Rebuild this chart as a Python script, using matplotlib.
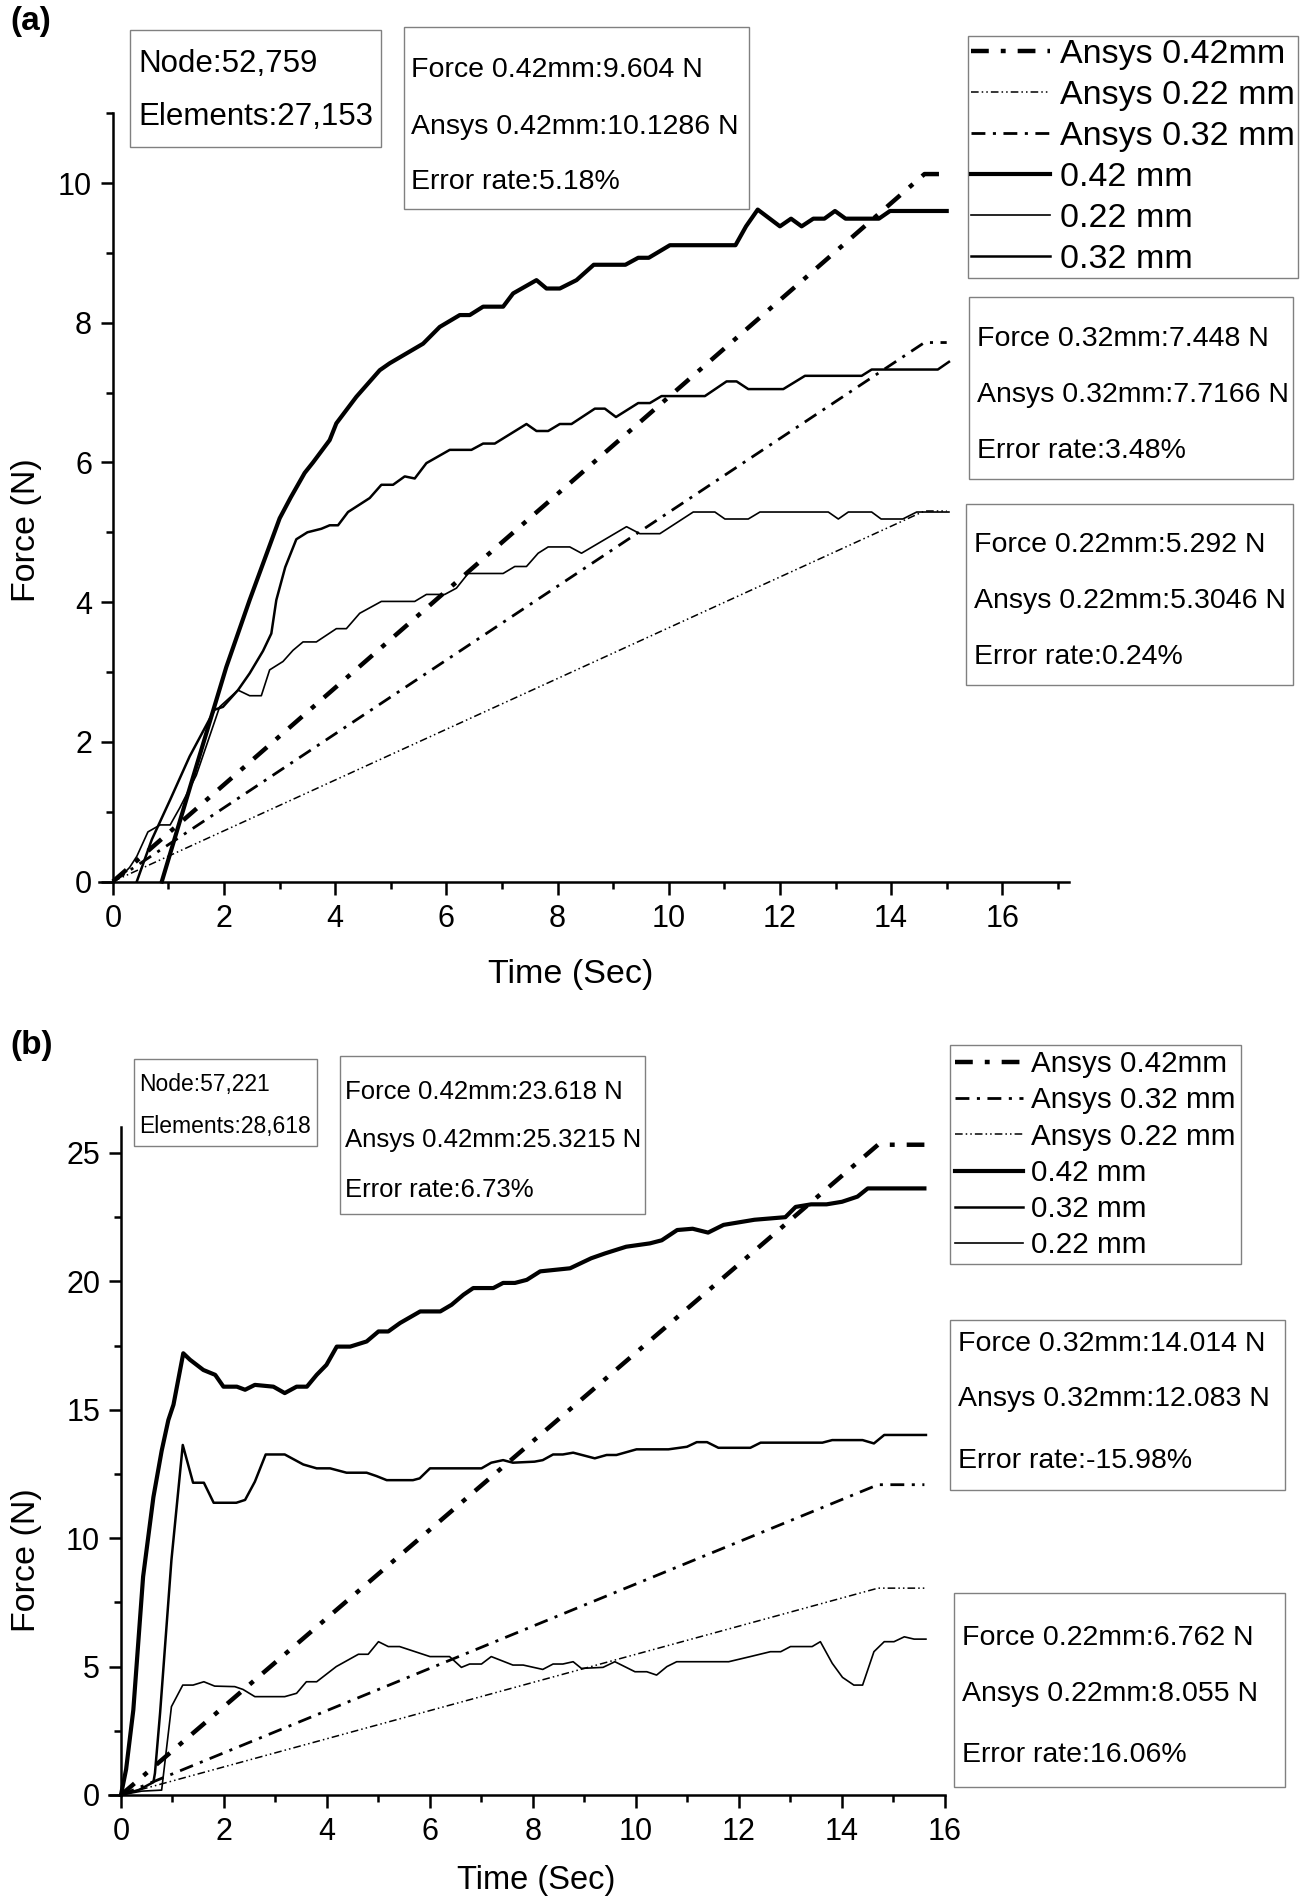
import matplotlib
matplotlib.use("Agg")
import matplotlib.pyplot as plt
from matplotlib.patches import Rectangle
from matplotlib.ticker import MultipleLocator

plt.rcParams['font.family'] = ['Liberation Sans', 'DejaVu Sans']

W, H = 1304, 1904

# ---------------- panel (a) ----------------
a_time_042 = [0.88, 1.38, 2.04, 2.46, 2.7, 3.0, 3.2, 3.45, 3.6, 3.90, 4.02, 4.38, 4.80, 4.98,
              5.58, 5.88, 6.24, 6.42, 6.66, 7.02, 7.2, 7.62, 7.80, 8.04, 8.34, 8.65, 9.22,
              9.45, 9.64, 10.02, 11.20, 11.39, 11.60, 12.0, 12.2, 12.39, 12.6, 12.8, 12.99,
              13.18, 13.78, 13.98, 15.0]
a_force_042 = [0.0, 1.33, 3.07, 4.03, 4.55, 5.2, 5.5, 5.85, 6.0, 6.32, 6.56, 6.94, 7.32, 7.42,
               7.70, 7.94, 8.11, 8.11, 8.23, 8.23, 8.42, 8.61, 8.49, 8.49, 8.61, 8.83, 8.83,
               8.93, 8.93, 9.11, 9.11, 9.38, 9.62, 9.38, 9.49, 9.38, 9.49, 9.49, 9.60,
               9.49, 9.49, 9.60, 9.60]

a_time_032 = [0.43, 0.7, 1.03, 1.38, 1.83, 1.98, 2.25, 2.46, 2.7, 2.85, 2.94, 3.1, 3.3, 3.5,
              3.75, 3.90, 4.05, 4.23, 4.62, 4.83, 5.04, 5.25, 5.43, 5.64, 6.06, 6.45, 6.66,
              6.87, 7.44, 7.62, 7.83, 8.04, 8.25, 8.67, 8.85, 9.05, 9.45, 9.66, 9.87, 10.65,
              11.04, 11.22, 11.43, 12.06, 12.45, 13.47, 13.65, 14.84, 15.04]
a_force_032 = [0.0, 0.6, 1.17, 1.79, 2.46, 2.50, 2.74, 2.98, 3.3, 3.55, 4.03, 4.5, 4.9, 5.0,
               5.05, 5.10, 5.10, 5.29, 5.49, 5.68, 5.68, 5.80, 5.77, 5.99, 6.18, 6.18, 6.27,
               6.27, 6.55, 6.45, 6.45, 6.55, 6.55, 6.77, 6.77, 6.65, 6.85, 6.85, 6.95, 6.95,
               7.16, 7.16, 7.05, 7.05, 7.24, 7.24, 7.33, 7.33, 7.44]

a_time_022 = [0.03, 0.15, 0.3, 0.43, 0.63, 0.85, 1.03, 1.2, 1.5, 1.92, 2.25, 2.46, 2.67, 2.82,
              3.06, 3.24, 3.42, 3.66, 4.02, 4.20, 4.44, 4.83, 5.43, 5.64, 5.97, 6.18, 6.39,
              7.02, 7.23, 7.44, 7.65, 7.83, 8.22, 8.43, 9.24, 9.48, 9.84, 10.44, 10.83, 11.01,
              11.43, 11.64, 12.87, 13.05, 13.23, 13.65, 13.82, 14.21, 14.46, 15.04]
a_force_022 = [0.0, 0.08, 0.2, 0.36, 0.71, 0.81, 0.81, 1.05, 1.52, 2.50, 2.74, 2.66, 2.66, 3.03,
               3.15, 3.31, 3.43, 3.43, 3.62, 3.62, 3.84, 4.01, 4.01, 4.11, 4.11, 4.20, 4.41,
               4.41, 4.51, 4.51, 4.70, 4.79, 4.79, 4.70, 5.08, 4.98, 4.98, 5.29, 5.29, 5.19,
               5.19, 5.29, 5.29, 5.19, 5.29, 5.29, 5.19, 5.19, 5.29, 5.29]

a_ansys_time = [0.0, 14.6, 15.0]
a_ansys_042 = [0.0, 10.1286, 10.1286]
a_ansys_032 = [0.0, 7.7166, 7.7166]
a_ansys_022 = [0.0, 5.3046, 5.3046]

# ---------------- panel (b) ----------------
b_time_042 = [0.0, 0.1, 0.24, 0.43, 0.63, 0.79, 0.92, 1.02, 1.21, 1.34, 1.6, 1.83, 1.99, 2.25,
              2.41, 2.6, 2.96, 3.18, 3.41, 3.61, 3.80, 3.99, 4.19, 4.45, 4.77, 5.0, 5.19,
              5.42, 5.81, 6.2, 6.42, 6.65, 6.84, 7.23, 7.42, 7.65, 7.88, 8.14, 8.72, 9.13,
              9.40, 9.81, 10.27, 10.5, 10.8, 11.1, 11.4, 11.7, 12.0, 12.3, 12.6, 12.9, 13.1,
              13.4, 13.7, 14.0, 14.3, 14.5, 15.6]
b_force_042 = [0.0, 1.0, 3.31, 8.5, 11.6, 13.4, 14.6, 15.2, 17.2, 16.95, 16.55, 16.36, 15.9,
               15.9, 15.78, 15.97, 15.9, 15.65, 15.9, 15.9, 16.36, 16.75, 17.46, 17.46, 17.66,
               18.05, 18.05, 18.38, 18.83, 18.83, 19.09, 19.48, 19.74, 19.74, 19.94, 19.94,
               20.06, 20.39, 20.51, 20.9, 21.09, 21.35, 21.48, 21.6, 22.0, 22.05, 21.9, 22.2,
               22.3, 22.4, 22.45, 22.5, 22.9, 23.0, 23.0, 23.1, 23.3, 23.62, 23.62]

b_time_032 = [0.0, 0.35, 0.63, 0.66, 0.76, 0.98, 1.20, 1.40, 1.61, 1.80, 2.24, 2.41, 2.60,
              2.81, 3.18, 3.54, 3.80, 4.06, 4.38, 4.77, 4.96, 5.16, 5.67, 5.80, 6.0, 7.0,
              7.19, 7.42, 7.61, 8.03, 8.19, 8.39, 8.58, 8.78, 9.2, 9.43, 9.62, 10.01, 10.63,
              10.99, 11.18, 11.38, 11.6, 12.22, 12.42, 13.62, 13.81, 14.4, 14.62, 14.82, 15.63]
b_force_032 = [0.0, 0.2, 0.5, 0.85, 3.2, 9.15, 13.63, 12.16, 12.16, 11.38, 11.38, 11.49, 12.2,
               13.26, 13.26, 12.87, 12.72, 12.72, 12.55, 12.55, 12.42, 12.26, 12.26, 12.33,
               12.72, 12.72, 12.94, 13.04, 12.94, 12.98, 13.04, 13.26, 13.26, 13.33, 13.11,
               13.24, 13.24, 13.46, 13.46, 13.56, 13.74, 13.74, 13.52, 13.52, 13.72, 13.72,
               13.82, 13.82, 13.69, 14.02, 14.02]

b_time_022 = [0.0, 0.4, 0.79, 0.98, 1.20, 1.40, 1.61, 1.82, 2.21, 2.37, 2.6, 3.18, 3.41, 3.60,
              3.80, 4.18, 4.61, 4.80, 5.0, 5.19, 5.41, 6.0, 6.38, 6.61, 6.77, 7.0, 7.19, 7.61,
              7.81, 8.19, 8.39, 8.58, 8.78, 8.94, 9.36, 9.59, 9.98, 10.21, 10.40, 10.60, 10.79,
              11.80, 12.22, 12.61, 12.81, 13.0, 13.42, 13.58, 13.81, 14.01, 14.23, 14.40,
              14.62, 14.82, 15.01, 15.21, 15.40, 15.63]
b_force_022 = [0.0, 0.15, 0.19, 3.44, 4.28, 4.28, 4.41, 4.24, 4.22, 4.11, 3.83, 3.83, 3.96,
               4.41, 4.41, 5.0, 5.48, 5.48, 5.97, 5.78, 5.78, 5.39, 5.39, 4.97, 5.10, 5.10,
               5.39, 5.06, 5.06, 4.89, 5.10, 5.10, 5.19, 4.93, 4.97, 5.19, 4.80, 4.80, 4.67,
               5.0, 5.19, 5.19, 5.39, 5.58, 5.58, 5.78, 5.78, 5.97, 5.13, 4.58, 4.28, 4.28,
               5.58, 5.97, 5.97, 6.16, 6.07, 6.07]

b_ansys_time = [0.0, 14.7, 15.6]
b_ansys_042 = [0.0, 25.3215, 25.3215]
b_ansys_032 = [0.0, 12.083, 12.083]
b_ansys_022 = [0.0, 8.055, 8.055]

# text boxes
a_mesh = ["Node:52,759", "Elements:27,153"]
a_box42 = ["Force 0.42mm:9.604 N", "Ansys 0.42mm:10.1286 N", "Error rate:5.18%"]
a_box32 = ["Force 0.32mm:7.448 N", "Ansys 0.32mm:7.7166 N", "Error rate:3.48%"]
a_box22 = ["Force 0.22mm:5.292 N", "Ansys 0.22mm:5.3046 N", "Error rate:0.24%"]
b_mesh = ["Node:57,221", "Elements:28,618"]
b_box42 = ["Force 0.42mm:23.618 N", "Ansys 0.42mm:25.3215 N", "Error rate:6.73%"]
b_box32 = ["Force 0.32mm:14.014 N", "Ansys 0.32mm:12.083 N", "Error rate:-15.98%"]
b_box22 = ["Force 0.22mm:6.762 N", "Ansys 0.22mm:8.055 N", "Error rate:16.06%"]

# line styles
DASH42 = (0, (4, 2.7, 1.1, 2.7))
DASH32 = (0, (5.0, 2.7, 1.1, 2.7))
DASH22 = (0, (5, 2, 1, 2, 1, 2))


def fig_rect(px0, py0, px1, py1):
    return [px0 / W, 1 - py1 / H, (px1 - px0) / W, (py1 - py0) / H]


def text_box(fig, x0, y0, x1, y1, lines, ys, tx, size):
    fig.add_artist(Rectangle((x0 / W, 1 - y1 / H), (x1 - x0) / W, (y1 - y0) / H,
                             transform=fig.transFigure, fill=False,
                             ec='#808080', lw=1.0))
    for s, y in zip(lines, ys):
        fig.text(tx / W, 1 - y / H, s, fontsize=size, va='center', ha='left')


def style_axes(ax, xlim, ylim, ymaj, ymin):
    ax.set_xlim(*xlim)
    ax.set_ylim(*ylim)
    ax.spines['top'].set_visible(False)
    ax.spines['right'].set_visible(False)
    ax.spines['left'].set_position(('data', 0))
    for s in ('left', 'bottom'):
        ax.spines[s].set_linewidth(1.8)
    ax.xaxis.set_minor_locator(MultipleLocator(1))
    ax.yaxis.set_major_locator(MultipleLocator(ymaj))
    ax.yaxis.set_minor_locator(MultipleLocator(ymin))
    ax.set_xticks(list(range(0, 17, 2)))
    ax.tick_params(which='major', direction='out', length=9, width=1.8,
                   labelsize=22)
    ax.tick_params(axis='x', which='major', pad=7)
    ax.tick_params(axis='y', which='major', pad=6)
    ax.tick_params(which='minor', direction='out', length=5, width=1.8)
    ax.patch.set_visible(False)


fig = plt.figure(figsize=(W / 100, H / 100), dpi=100)

# ---------- (a) ----------
ax = fig.add_axes(fig_rect(99, 113.2, 1069, 881.5))
h_an42, = ax.plot(a_ansys_time, a_ansys_042, color='k', lw=3.2, ls=DASH42, clip_on=False)
h_an22, = ax.plot(a_ansys_time, a_ansys_022, color='k', lw=1.1, ls=DASH22, clip_on=False)
h_an32, = ax.plot(a_ansys_time, a_ansys_032, color='k', lw=2.0, ls=DASH32, clip_on=False)
h_42, = ax.plot(a_time_042, a_force_042, color='k', lw=3.0, clip_on=False)
h_22, = ax.plot(a_time_022, a_force_022, color='k', lw=1.2, clip_on=False)
h_32, = ax.plot(a_time_032, a_force_032, color='k', lw=1.8, clip_on=False)
style_axes(ax, (-0.25, 17.2), (0, 11), 2, 1)
leg = ax.legend([h_an42, h_an22, h_an32, h_42, h_22, h_32],
                ["Ansys 0.42mm", "Ansys 0.22 mm", "Ansys 0.32 mm",
                 "0.42 mm", "0.22 mm", "0.32 mm"],
                loc='upper left', bbox_to_anchor=(968 / W, 1 - 36 / H),
                bbox_transform=fig.transFigure, fontsize=24.5, labelspacing=0.29,
                borderpad=0.1, handlelength=2.3, handletextpad=0.3,
                borderaxespad=0, fancybox=False, edgecolor='#808080', framealpha=1)
leg.get_frame().set_linewidth(1.0)

fig.text(571 / W, 1 - 975 / H, "Time (Sec)", fontsize=24.5, ha='center', va='center')
fig.text(27 / W, 1 - 530 / H, "Force (N)", fontsize=24.5, ha='center', va='center',
         rotation=90)
fig.text(10 / W, 1 - 6 / H, "(a)", fontsize=24, fontweight='bold', ha='left', va='top')

text_box(fig, 130, 30, 381, 147, a_mesh, [64, 117], 138, 22.5)
text_box(fig, 404, 27, 749, 209, a_box42, [70, 127, 182], 411, 20.5)
text_box(fig, 969, 297, 1293, 479, a_box32, [339, 395, 451], 977, 20.5)
text_box(fig, 966, 504, 1293, 685, a_box22, [545, 601, 657], 974, 20.5)

# ---------- (b) ----------
ax = fig.add_axes(fig_rect(108.6, 1127.3, 945, 1795))
h_an42, = ax.plot(b_ansys_time, b_ansys_042, color='k', lw=3.2, ls=DASH42, clip_on=False)
h_an32, = ax.plot(b_ansys_time, b_ansys_032, color='k', lw=2.0, ls=DASH32, clip_on=False)
h_an22, = ax.plot(b_ansys_time, b_ansys_022, color='k', lw=1.1, ls=DASH22, clip_on=False)
h_42, = ax.plot(b_time_042, b_force_042, color='k', lw=3.0, clip_on=False)
h_32, = ax.plot(b_time_032, b_force_032, color='k', lw=1.8, clip_on=False)
h_22, = ax.plot(b_time_022, b_force_022, color='k', lw=1.2, clip_on=False)
style_axes(ax, (-0.24, 16), (0, 26), 5, 2.5)
leg = ax.legend([h_an42, h_an32, h_an22, h_42, h_32, h_22],
                ["Ansys 0.42mm", "Ansys 0.32 mm", "Ansys 0.22 mm",
                 "0.42 mm", "0.32 mm", "0.22 mm"],
                loc='upper left', bbox_to_anchor=(950 / W, 1 - 1045 / H),
                bbox_transform=fig.transFigure, fontsize=21.3, labelspacing=0.28,
                borderpad=0.17, handlelength=2.3, handletextpad=0.28,
                borderaxespad=0, fancybox=False, edgecolor='#808080', framealpha=1)
leg.get_frame().set_linewidth(1.0)

fig.text(536 / W, 1 - 1881 / H, "Time (Sec)", fontsize=23.5, ha='center', va='center')
fig.text(27 / W, 1 - 1560 / H, "Force (N)", fontsize=24.5, ha='center', va='center',
         rotation=90)
fig.text(10 / W, 1 - 1030 / H, "(b)", fontsize=24, fontweight='bold', ha='left', va='top')

text_box(fig, 134, 1059, 317, 1146, b_mesh, [1085, 1127], 139, 16.5)
text_box(fig, 340, 1056, 645, 1214, b_box42, [1092, 1140, 1190], 345, 18.5)
text_box(fig, 950, 1320, 1285, 1490, b_box32, [1344, 1399, 1461], 958, 20.5)
text_box(fig, 954, 1593, 1285, 1787, b_box22, [1638, 1694, 1755], 962, 20.5)

fig.savefig("out.png", dpi=100)
